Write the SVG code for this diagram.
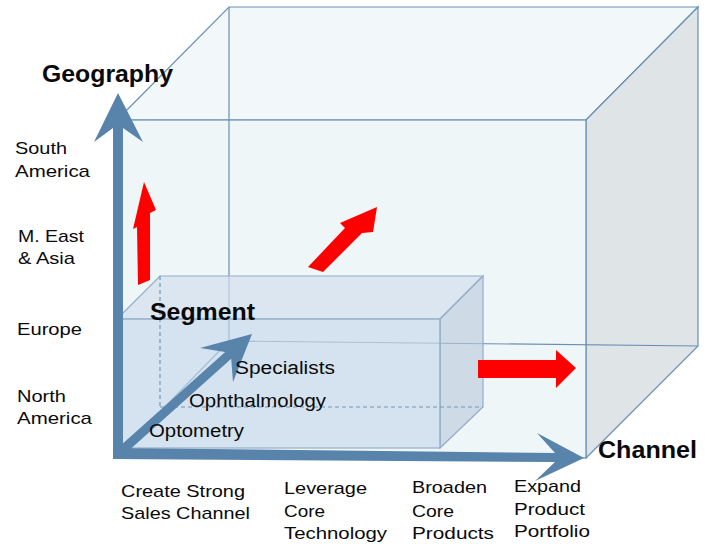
<svg xmlns="http://www.w3.org/2000/svg" width="709" height="544" viewBox="0 0 709 544">
<style>
.edge{stroke:#6b8fb4;stroke-width:1.2}
.ln{stroke:#6b8fb4;stroke-width:1.2;fill:none}
.sedge{stroke:#92adca;stroke-width:1.2}
.dash{stroke:#7396bb;stroke-width:1.2;fill:none;stroke-dasharray:4 3}
.axis{fill:#5883ab}
.red{fill:#ff0000}
text{font-family:"Liberation Sans",Arial,sans-serif;fill:#0a0a0a}
.lbl{font-size:17px}
.ttl{font-size:23px;font-weight:bold}
.seg{font-size:18px}
</style>
<rect width="709" height="544" fill="#ffffff"/>
<g id="cube">
<polygon points="117,120 229,7 698,7 586,120" style="fill:#f2f8f9" class="edge"/>
<polygon points="586,120 698,7 698,346 586,458" style="fill:#dfe5e6" class="edge"/>
<rect x="117" y="120" width="469" height="338" style="fill:#eef6f8" class="edge"/>
<line x1="229" y1="7" x2="229" y2="341" class="ln"/>
<line x1="229" y1="341" x2="698" y2="346" class="ln"/>
<line x1="229" y1="341" x2="117" y2="456" class="ln"/>
</g>
<g id="segment-box">
<polygon points="117,319 160,276 483,276 440,319" style="fill:#d3e0ee;fill-opacity:0.7" class="sedge"/>
<polygon points="440,319 483,276 483,407 440,448" style="fill:#b9c8d9;fill-opacity:0.6" class="sedge"/>
<rect x="117" y="319" width="323" height="129" style="fill:#c6d8ea;fill-opacity:0.65" class="sedge"/>
<line x1="160" y1="276" x2="160" y2="407" class="dash"/>
<line x1="160" y1="407" x2="483" y2="407" class="dash"/>
</g>
<g id="connectors">
<polygon id="axis-geography" class="axis" points="113,459 113,128 94,142 118,93 143,142 123,128 123,459"/>
<polygon id="axis-channel" class="axis" points="113,448 555,453 537,433 584,458 535,481 555,462 113,459"/>
<polygon id="axis-segment" class="axis" points="115,450.6 225.2,351.9 200,348 252,334 233,382 231.2,358.7 121,457.4"/>
<polygon id="red-up" class="red" points="138,285 137,227 133,229 144,182 156,210 150,213 150,280"/>
<polygon id="red-diag" class="red" points="308,267 345,228 340,223 377,207 373,232 362,233 323,272"/>
<polygon id="red-right" class="red" points="478,360 556,360 556,350 576,368 556,388 556,378 478,378"/>
</g>
<g id="labels">
<text x="42" y="82" font-size="24" font-weight="bold" textLength="131" lengthAdjust="spacingAndGlyphs">Geography</text>
<text x="150" y="320" class="ttl" textLength="105" lengthAdjust="spacingAndGlyphs">Segment</text>
<text x="598" y="458" class="ttl" textLength="99" lengthAdjust="spacingAndGlyphs">Channel</text>
<text x="15" y="154" class="lbl" textLength="52" lengthAdjust="spacingAndGlyphs">South</text>
<text x="15" y="177" class="lbl" textLength="75" lengthAdjust="spacingAndGlyphs">America</text>
<text x="18" y="242" class="lbl" textLength="66" lengthAdjust="spacingAndGlyphs">M. East</text>
<text x="18" y="264" class="lbl" textLength="57" lengthAdjust="spacingAndGlyphs">&amp; Asia</text>
<text x="17" y="335" class="lbl" textLength="65" lengthAdjust="spacingAndGlyphs">Europe</text>
<text x="17" y="402" class="lbl" textLength="49" lengthAdjust="spacingAndGlyphs">North</text>
<text x="17" y="424" class="lbl" textLength="75" lengthAdjust="spacingAndGlyphs">America</text>
<text x="235" y="374" class="seg" textLength="100" lengthAdjust="spacingAndGlyphs">Specialists</text>
<text x="189" y="407" class="seg" textLength="137" lengthAdjust="spacingAndGlyphs">Ophthalmology</text>
<text x="149" y="437" class="seg" textLength="95" lengthAdjust="spacingAndGlyphs">Optometry</text>
<text x="121" y="497" class="lbl" textLength="124" lengthAdjust="spacingAndGlyphs">Create Strong</text>
<text x="121" y="519" class="lbl" textLength="129" lengthAdjust="spacingAndGlyphs">Sales Channel</text>
<text x="284" y="494" class="lbl" textLength="83" lengthAdjust="spacingAndGlyphs">Leverage</text>
<text x="284" y="517" class="lbl" textLength="41" lengthAdjust="spacingAndGlyphs">Core</text>
<text x="284" y="539" class="lbl" textLength="103" lengthAdjust="spacingAndGlyphs">Technology</text>
<text x="412" y="493" class="lbl" textLength="75" lengthAdjust="spacingAndGlyphs">Broaden</text>
<text x="412" y="517" class="lbl" textLength="42" lengthAdjust="spacingAndGlyphs">Core</text>
<text x="412" y="539" class="lbl" textLength="82" lengthAdjust="spacingAndGlyphs">Products</text>
<text x="514" y="492" class="lbl" textLength="67" lengthAdjust="spacingAndGlyphs">Expand</text>
<text x="514" y="515" class="lbl" textLength="71" lengthAdjust="spacingAndGlyphs">Product</text>
<text x="514" y="537" class="lbl" textLength="76" lengthAdjust="spacingAndGlyphs">Portfolio</text>
</g>
</svg>
